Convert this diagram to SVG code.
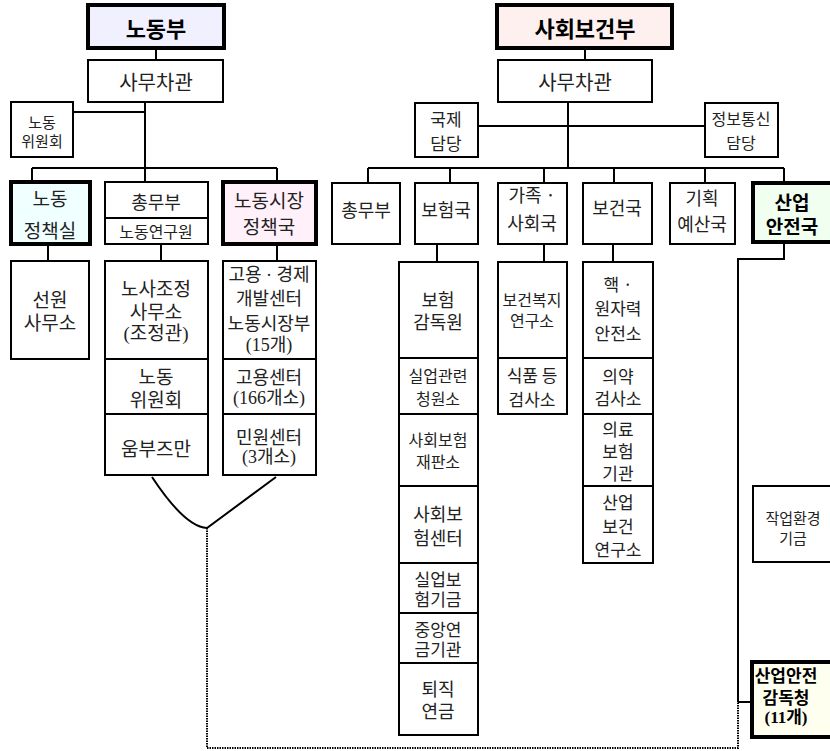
<svg xmlns="http://www.w3.org/2000/svg" width="830" height="751" viewBox="0 0 830 751">
<style>
rect{fill:#fff;stroke:#000;stroke-width:2}
rect.thick{stroke-width:4}
text{font-family:"Noto Sans CJK KR","Noto Sans",sans-serif;font-size:16px;fill:#222;text-anchor:middle;dominant-baseline:central}
.b{font-weight:bold;fill:#000}
.s{font-family:"Liberation Serif","Noto Sans CJK KR",serif}
.f15{font-size:15px}.f16{font-size:16px}.f17{font-size:17px}.f18{font-size:18px}.f19{font-size:19px}.f20{font-size:20px}.f22{font-size:22px}
.c path{fill:none;stroke:#000;stroke-width:2}
.c path.dot{stroke-dasharray:1.5 1}
</style>
<rect width="830" height="751" style="fill:#fff;stroke:none"/>
<g class="c" id="connectors">
<path d="M156,48V60M145,102V182M73,112H145M32,168H277M32,168V182M277,168V182M48,244V261M161,244V261M277,244V261"/>
<path d="M585,48V60M568,102V168M478,126H705M368,168H784M368,168V183M450,168V183M544,168V183M614,168V183M705,168V183M784,168V183M437,244V262M544,244V262M613,244V262"/>
<path d="M152,477Q185,527 207,528L276,477"/>
<path class="dot" d="M207,528V748H738V702"/>
<path d="M738,702H752M738,702V259H784V244"/>
</g>
<g id="n_labor"><rect class="thick" x="88" y="5" width="136" height="43" style="fill:#f0f0ff"/><text class="b f22" x="156" y="27">노동부</text></g>
<g id="n_vice1"><rect x="88" y="60" width="135" height="42"/><text class="f20" x="156" y="81">사무차관</text></g>
<g id="n_lcomm"><rect x="11" y="102" width="62" height="55"/><text class="f15"><tspan x="42" y="121">노동</tspan><tspan x="42" y="140">위원회</tspan></text></g>
<g id="n_policy"><rect class="thick" x="11" y="182" width="79" height="62" style="fill:#f0ffff"/><text class="f19"><tspan x="50" y="197">노동</tspan><tspan x="50" y="229">정책실</tspan></text></g>
<g id="n_gen1"><rect x="105" y="182" width="103" height="36"/><text class="f18" x="156" y="201">총무부</text><rect x="105" y="218" width="103" height="26"/><text class="f16" x="156" y="231">노동연구원</text></g>
<g id="n_market"><rect class="thick" x="223" y="182" width="93" height="62" style="fill:#fff0fa"/><text class="f19"><tspan x="269" y="199">노동시장</tspan><tspan x="269" y="225">정책국</tspan></text></g>
<g id="n_seaman"><rect x="11" y="261" width="78" height="98"/><text class="f19"><tspan x="50" y="298">선원</tspan><tspan x="50" y="321">사무소</tspan></text></g>
<g id="n_med"><rect x="105" y="261" width="103" height="98"/><text class="f19"><tspan x="156" y="287">노사조정</tspan><tspan x="156" y="310">사무소</tspan><tspan class="s" x="156" y="333">(조정관)</tspan></text></g>
<g id="n_lcomm2"><rect x="105" y="359" width="103" height="55"/><text class="f19"><tspan x="156" y="375">노동</tspan><tspan x="156" y="398">위원회</tspan></text></g>
<g id="n_ombud"><rect x="105" y="414" width="103" height="61"/><text class="f19" x="156" y="447">움부즈만</text></g>
<g id="n_empdev"><rect x="223" y="261" width="93" height="98"/><text class="f18"><tspan class="s" x="269" y="275">고용 · 경제</tspan><tspan x="269" y="297">개발센터</tspan><tspan x="269" y="322">노동시장부</tspan><tspan class="s" x="269" y="345">(15개)</tspan></text></g>
<g id="n_empcent"><rect x="223" y="359" width="93" height="55"/><text class="f18"><tspan x="269" y="376">고용센터</tspan><tspan class="s" x="269" y="398">(166개소)</tspan></text></g>
<g id="n_civil"><rect x="223" y="414" width="93" height="61"/><text class="f18"><tspan x="269" y="436">민원센터</tspan><tspan class="s" x="269" y="457">(3개소)</tspan></text></g>
<g id="n_health"><rect class="thick" x="497" y="5" width="175" height="43" style="fill:#fff0f0"/><text class="b f22" x="585" y="27">사회보건부</text></g>
<g id="n_vice2"><rect x="498" y="60" width="154" height="42"/><text class="f20" x="575" y="81">사무차관</text></g>
<g id="n_intl"><rect x="415" y="103" width="63" height="54"/><text class="f17"><tspan x="446" y="118">국제</tspan><tspan x="446" y="142">담당</tspan></text></g>
<g id="n_info"><rect x="705" y="103" width="73" height="54"/><text class="f16"><tspan x="741" y="118">정보통신</tspan><tspan x="741" y="142">담당</tspan></text></g>
<g id="n_gen2"><rect x="332" y="183" width="68" height="61"/><text class="f18" x="366" y="209">총무부</text></g>
<g id="n_ins"><rect x="415" y="183" width="63" height="61"/><text class="f18" x="446" y="209">보험국</text></g>
<g id="n_family"><rect x="498" y="183" width="69" height="61"/><text class="f18"><tspan x="532" y="194">가족 ·</tspan><tspan x="532" y="222">사회국</tspan></text></g>
<g id="n_hbur"><rect x="583" y="183" width="69" height="61"/><text class="f18" x="617" y="207">보건국</text></g>
<g id="n_plan"><rect x="670" y="183" width="65" height="61"/><text class="f18"><tspan x="702" y="197">기획</tspan><tspan x="702" y="223">예산국</tspan></text></g>
<g id="n_safety"><rect class="thick" x="753" y="183" width="90" height="59" style="fill:#f0fff0"/><text class="b f19"><tspan x="792" y="201">산업</tspan><tspan x="792" y="225">안전국</tspan></text></g>
<g id="n_insup"><rect x="399" y="262" width="79" height="96"/><text class="f18"><tspan x="438" y="299">보험</tspan><tspan x="438" y="321">감독원</tspan></text></g>
<g id="n_unemp"><rect x="399" y="358" width="79" height="56"/><text class="f16"><tspan x="438" y="375">실업관련</tspan><tspan x="438" y="398">청원소</tspan></text></g>
<g id="n_court"><rect x="399" y="414" width="79" height="72"/><text class="f16"><tspan x="438" y="439">사회보험</tspan><tspan x="438" y="461">재판소</tspan></text></g>
<g id="n_sicent"><rect x="399" y="486" width="79" height="77"/><text class="f18"><tspan x="438" y="513">사회보</tspan><tspan x="438" y="537">험센터</tspan></text></g>
<g id="n_uifund"><rect x="399" y="563" width="79" height="50"/><text class="f17"><tspan x="438" y="578">실업보</tspan><tspan x="438" y="598">험기금</tspan></text></g>
<g id="n_pension"><rect x="399" y="613" width="79" height="50"/><text class="f17"><tspan x="438" y="628">중앙연</tspan><tspan x="438" y="648">금기관</tspan></text></g>
<g id="n_retire"><rect x="399" y="663" width="79" height="72"/><text class="f18"><tspan x="438" y="688">퇴직</tspan><tspan x="438" y="710">연금</tspan></text></g>
<g id="n_welres"><rect x="498" y="262" width="69" height="96"/><text class="f16"><tspan x="532" y="299">보건복지</tspan><tspan x="532" y="320">연구소</tspan></text></g>
<g id="n_food"><rect x="498" y="358" width="69" height="56"/><text class="f17"><tspan x="532" y="374">식품 등</tspan><tspan x="532" y="398">검사소</tspan></text></g>
<g id="n_nuc"><rect x="583" y="262" width="70" height="96"/><text class="f17"><tspan x="618" y="283">핵 ·</tspan><tspan x="618" y="307">원자력</tspan><tspan x="618" y="332">안전소</tspan></text></g>
<g id="n_drug"><rect x="583" y="358" width="70" height="56"/><text class="f17"><tspan x="618" y="375">의약</tspan><tspan x="618" y="397">검사소</tspan></text></g>
<g id="n_medins"><rect x="583" y="414" width="70" height="72"/><text class="f17"><tspan x="618" y="428">의료</tspan><tspan x="618" y="450">보험</tspan><tspan x="618" y="472">기관</tspan></text></g>
<g id="n_ohres"><rect x="583" y="486" width="70" height="77"/><text class="f17"><tspan x="618" y="501">산업</tspan><tspan x="618" y="525">보건</tspan><tspan x="618" y="548">연구소</tspan></text></g>
<g id="n_envfund"><rect x="753" y="486" width="90" height="76"/><text class="f15"><tspan x="793" y="517">작업환경</tspan><tspan x="793" y="537">기금</tspan></text></g>
<g id="n_inspect"><rect class="thick" x="752" y="662" width="90" height="75" style="fill:#fffff0"/><text class="b f17"><tspan x="786" y="674">산업안전</tspan><tspan x="786" y="696">감독청</tspan><tspan class="s" x="786" y="717">(11개)</tspan></text></g>
</svg>
